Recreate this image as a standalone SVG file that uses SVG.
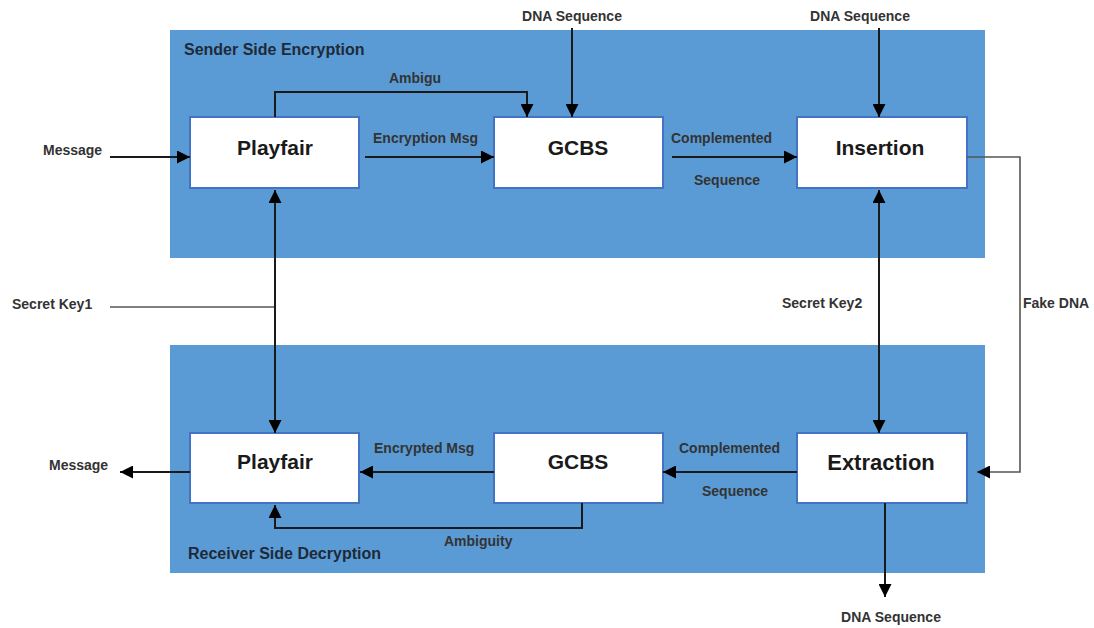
<svg xmlns="http://www.w3.org/2000/svg" width="1094" height="628" viewBox="0 0 1094 628">
<defs>
<style>
.panel{fill:#5b9bd5;}
.box{fill:#ffffff;stroke:#4472c4;stroke-width:2;}
.bt{font-family:"Liberation Sans",Arial,sans-serif;font-weight:bold;font-size:21px;fill:#1a1a1a;text-anchor:middle;}
.lb{font-family:"Liberation Sans",Arial,sans-serif;font-weight:bold;font-size:14px;fill:#333333;}
.ttl{font-family:"Liberation Sans",Arial,sans-serif;font-weight:bold;font-size:16px;fill:#1e2a38;}
.ln{fill:none;stroke:#1a1a1a;stroke-width:2;}
.thin{fill:none;stroke:#555555;stroke-width:1.6;}
</style>
<marker id="arr" viewBox="0 0 10 10" refX="10" refY="5" markerWidth="13" markerHeight="13" markerUnits="userSpaceOnUse" orient="auto-start-reverse">
<path d="M0,0 L10,5 L0,10 z" fill="#000000"/>
</marker>
</defs>
<rect width="1094" height="628" fill="#ffffff"/>
<g id="sender-panel">
<rect class="panel" x="170" y="30" width="815" height="228"/>
<text class="ttl" x="184" y="55">Sender Side Encryption</text>
</g>
<g id="receiver-panel">
<rect class="panel" x="170" y="345" width="815" height="228"/>
<text class="ttl" x="188" y="559">Receiver Side Decryption</text>
</g>
<g id="playfair-enc">
<rect class="box" x="190" y="117" width="169" height="71"/>
<text class="bt" x="275" y="155">Playfair</text>
</g>
<g id="gcbs-enc">
<rect class="box" x="494" y="117" width="169" height="71"/>
<text class="bt" x="578" y="155">GCBS</text>
</g>
<g id="insertion">
<rect class="box" x="797" y="117" width="170" height="71"/>
<text class="bt" x="880" y="155">Insertion</text>
</g>
<g id="playfair-dec">
<rect class="box" x="190" y="433" width="169" height="70"/>
<text class="bt" x="275" y="469">Playfair</text>
</g>
<g id="gcbs-dec">
<rect class="box" x="494" y="433" width="169" height="70"/>
<text class="bt" x="578" y="469">GCBS</text>
</g>
<g id="extraction">
<rect class="box" x="797" y="433" width="170" height="70"/>
<text class="bt" x="881" y="470" style="font-size:22px">Extraction</text>
</g>
<g id="connectors">
<path class="ln" d="M110,157 H190" marker-end="url(#arr)"/>
<path class="ln" d="M365,157 H494" marker-end="url(#arr)"/>
<path class="ln" d="M672,157 H797" marker-end="url(#arr)"/>
<path class="ln" d="M275,117 V92 H527 V117" marker-end="url(#arr)"/>
<path class="ln" d="M572,28 V117" marker-end="url(#arr)"/>
<path class="ln" d="M879,28 V117" marker-end="url(#arr)"/>
<path class="thin" d="M967,157 H1020 V472 H977" marker-end="url(#arr)"/>
<path class="thin" d="M110,307 H275"/>
<path class="ln" d="M275,190 V433" marker-start="url(#arr)" marker-end="url(#arr)"/>
<path class="ln" d="M879,190 V433" marker-start="url(#arr)" marker-end="url(#arr)"/>
<path class="ln" d="M797,472 H663" marker-end="url(#arr)"/>
<path class="ln" d="M494,472 H360" marker-end="url(#arr)"/>
<path class="ln" d="M190,472 H120" marker-end="url(#arr)"/>
<path class="ln" d="M582,503 V528 H275 V505" marker-end="url(#arr)"/>
<path class="ln" d="M885,503 V597" marker-end="url(#arr)"/>
</g>
<g id="labels">
<text class="lb" x="43" y="155">Message</text>
<text class="lb" x="389" y="83">Ambigu</text>
<text class="lb" x="373" y="143">Encryption Msg</text>
<text class="lb" x="572" y="21" text-anchor="middle">DNA Sequence</text>
<text class="lb" x="860" y="21" text-anchor="middle">DNA Sequence</text>
<text class="lb" x="671" y="143">Complemented</text>
<text class="lb" x="694" y="185">Sequence</text>
<text class="lb" x="12" y="309">Secret Key1</text>
<text class="lb" x="782" y="308">Secret Key2</text>
<text class="lb" x="1023" y="308">Fake DNA</text>
<text class="lb" x="49" y="470">Message</text>
<text class="lb" x="374" y="453">Encrypted Msg</text>
<text class="lb" x="679" y="453">Complemented</text>
<text class="lb" x="702" y="496">Sequence</text>
<text class="lb" x="444" y="546">Ambiguity</text>
<text class="lb" x="891" y="622" text-anchor="middle">DNA Sequence</text>
</g>
</svg>
